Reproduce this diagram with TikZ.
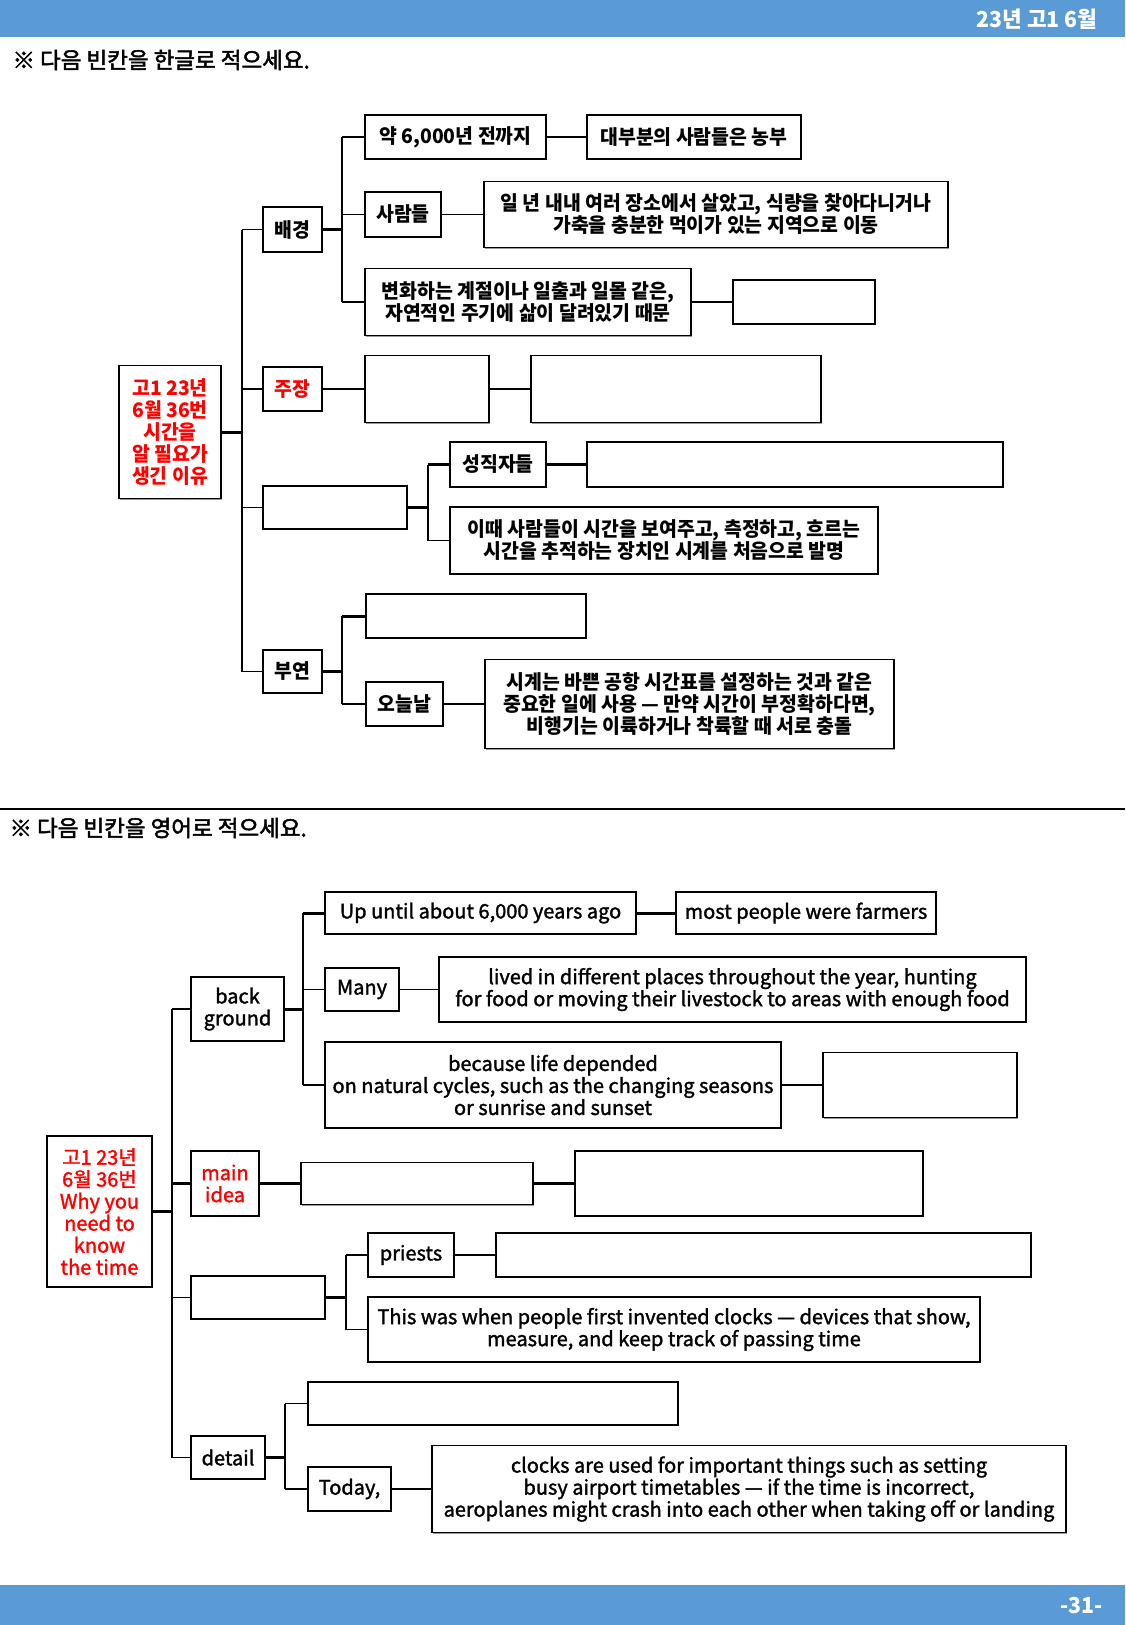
\documentclass[tikz,border=0pt]{standalone}
\usepackage{fontspec}
\setmainfont{Noto Sans CJK KR}
\newfontfamily\kr{Noto Sans CJK KR}[FakeStretch=0.97]
\newfontfamily\en{Noto Sans CJK KR}[FakeBold=1.6]
\newfontfamily\ins{Noto Sans CJK KR}[FakeBold=2.2]
\usetikzlibrary{calc,shadows}
\definecolor{barblue}{HTML}{5B9BD5}
\definecolor{myred}{HTML}{FF0000}
\begin{document}
\begin{tikzpicture}[x=1pt,y=-1pt,
  box/.style={draw=black, line width=1.6pt, fill=white, inner sep=2pt, align=center,
    font=\kr\bfseries\fontsize{20}{22}\selectfont,
    drop shadow={shadow xshift=1.3pt, shadow yshift=-1.3pt, fill=black!40, opacity=1}},
  ebox/.style={box, font=\en\fontsize{20}{22}\selectfont},
  sz/.style 2 args={minimum width=#1pt, minimum height=#2pt},
  conn/.style={line width=1.6pt},
  heavy/.style={line width=3pt},
  instr/.style={anchor=west, font=\ins\fontsize{22.5}{24}\selectfont}
]
\useasboundingbox (0,0) rectangle (1125,1625);
\fill[white] (0,0) rectangle (1125,1625);
\fill[barblue] (0,0) rectangle (1125,37);
\fill[barblue] (0,1585) rectangle (1125,1625);
\node[anchor=east, text=white, font=\kr\bfseries\fontsize{22}{24}\selectfont] (hdr) at (1101,19) {23년 고1 6월};
\node[anchor=east, text=white, font=\kr\bfseries\fontsize{22}{24}\selectfont] (ftr) at (1106,1605) {-31-};
\node[instr] (ins1) at (9,60) {※ 다음 빈칸을 한글로 적으세요.};
\node[instr] (ins2) at (6,828) {※ 다음 빈칸을 영어로 적으세요.};
\draw[line width=2.4pt] (0,809) -- (1125,809);

% ===== Top diagram =====
\node[box, sz={102}{133}, text=myred] (rootA) at (170,432) {고1 23년\\6월 36번\\시간을\\알 필요가\\생긴 이유};
\node[box, sz={59}{45}] (bgA) at (292.5,229.5) {배경};
\node[box, sz={59}{44}, text=myred] (mainA) at (292.5,389) {주장};
\node[box, sz={144}{43}] (thirdA) at (335,507.5) {};
\node[box, sz={59}{43}] (detA) at (292.5,671.5) {부연};

\node[box, sz={181}{44}] (a1) at (455.5,137) {약 6,000년 전까지};
\node[box, sz={214}{44}] (a1r) at (694,137) {대부분의 사람들은 농부};
\node[box, sz={76}{45}] (a2) at (403,214.5) {사람들};
\node[box, sz={464}{66}] (a2r) at (716,214.5) {일 년 내내 여러 장소에서 살았고, 식량을 찾아다니거나\\가축을 충분한 먹이가 있는 지역으로 이동};
\node[box, sz={326}{67}] (a3) at (528,302) {변화하는 계절이나 일출과 일몰 같은,\\자연적인 주기에 삶이 달려있기 때문};
\node[box, sz={142}{44}] (a3r) at (804,302) {};

\node[box, sz={124}{67}] (m1) at (427,389) {};
\node[box, sz={290}{67}] (m2) at (676,389) {};

\node[box, sz={96}{45}] (p1) at (498,464.5) {성직자들};
\node[box, sz={416}{45}] (p1r) at (795,464.5) {};
\node[box, sz={428}{67}] (p2) at (664,540.5) {이때 사람들이 시간을 보여주고, 측정하고, 흐르는\\시간을 추적하는 장치인 시계를 처음으로 발명};

\node[box, sz={220}{44}] (d1) at (476,616) {};
\node[box, sz={77}{44}] (d2) at (404.5,704) {오늘날};
\node[box, sz={409}{89}] (d2r) at (689.5,704) {시계는 바쁜 공항 시간표를 설정하는 것과 같은\\중요한 일에 사용 — 만약 시간이 부정확하다면,\\비행기는 이륙하거나 착륙할 때 서로 충돌};

\coordinate (tA) at (242,0);
\coordinate (sA1) at (342,0);
\coordinate (sA2) at (428,0);
\coordinate (sA3) at (342,0);
\draw[heavy] (rootA.east) -- (rootA.east -| tA);
\draw[conn] (tA |- bgA.west) -- (tA |- detA.west);
\foreach \n in {bgA,mainA,thirdA,detA} \draw[conn] (tA |- \n.west) -- (\n.west);
\draw[heavy] (bgA.east) -- (bgA.east -| sA1);
\draw[conn] (sA1 |- a1.west) -- (sA1 |- a3.west);
\foreach \n in {a1,a2,a3} \draw[conn] (sA1 |- \n.west) -- (\n.west);
\draw[conn] (a1.east) -- (a1r.west);
\draw[conn] (a2.east) -- (a2r.west);
\draw[conn] (a3.east) -- (a3r.west);
\draw[conn] (mainA.east) -- (m1.west);
\draw[conn] (m1.east) -- (m2.west);
\draw[heavy] (thirdA.east) -- (thirdA.east -| sA2);
\draw[conn] (sA2 |- p1.west) -- (sA2 |- p2.west);
\draw[heavy] (sA2 |- p1.west) -- (p1.west);
\draw[conn] (sA2 |- p2.west) -- (p2.west);
\draw[heavy] (p1.east) -- (p1r.west);
\draw[heavy] (detA.east) -- (detA.east -| sA3);
\draw[conn] (sA3 |- d1.west) -- (sA3 |- d2.west);
\draw[heavy] (sA3 |- d1.west) -- (d1.west);
\draw[conn] (sA3 |- d2.west) -- (d2.west);
\draw[conn] (d2.east) -- (d2r.west);

% ===== Bottom diagram =====
\node[ebox, sz={105}{151}, text=myred, font=\en\fontsize{20}{22}\selectfont] (rootB) at (99.5,1211.5) {고1 23년\\6월 36번\\Why you\\need to\\know\\the time};
\node[ebox, sz={93}{64}] (bgB) at (237.5,1009) {back\\ground};
\node[ebox, sz={68}{65}, text=myred] (mainB) at (225,1183.5) {main\\idea};
\node[ebox, sz={134}{43}] (thirdB) at (258,1297.5) {};
\node[ebox, sz={74}{43}] (detB) at (228,1457.5) {detail};

\node[ebox, sz={311}{42}] (b1) at (480.5,913) {Up until about 6,000 years ago};
\node[ebox, sz={260}{42}] (b1r) at (806,913) {most people were farmers};
\node[ebox, sz={74}{43}] (b2) at (362,989.5) {Many};
\node[ebox, sz={587}{65}] (b2r) at (732.5,989.5) {lived in different places throughout the year, hunting\\for food or moving their livestock to areas with enough food};
\node[ebox, sz={456}{86}] (b3) at (553,1085) {because life depended\\on natural cycles, such as the changing seasons\\or sunrise and sunset};
\node[ebox, sz={194}{65}] (b3r) at (920,1085) {};

\node[ebox, sz={232}{42}] (mb1) at (417,1183.5) {};
\node[ebox, sz={348}{65}] (mb2) at (749,1183.5) {};

\node[ebox, sz={86}{44}] (q1) at (411,1255) {priests};
\node[ebox, sz={535}{44}] (q1r) at (763.5,1255) {};
\node[ebox, sz={612}{65}] (q2) at (674,1329.5) {This was when people first invented clocks — devices that show,\\measure, and keep track of passing time};

\node[ebox, sz={370}{43}] (e1) at (493,1403.5) {};
\node[ebox, sz={83}{44}] (e2) at (349.5,1489) {Today,};
\node[ebox, sz={634}{87}] (e2r) at (749,1489) {clocks are used for important things such as setting\\busy airport timetables — if the time is incorrect,\\aeroplanes might crash into each other when taking off or landing};

\coordinate (tB) at (172,0);
\coordinate (sB1) at (303,0);
\coordinate (sB2) at (346,0);
\coordinate (sB3) at (285,0);
\draw[heavy] (rootB.east) -- (rootB.east -| tB);
\draw[conn] (tB |- bgB.west) -- (tB |- detB.west);
\foreach \n in {bgB,thirdB,detB} \draw[conn] (tB |- \n.west) -- (\n.west);
\draw[heavy] (tB |- mainB.west) -- (mainB.west);
\draw[heavy] (bgB.east) -- (bgB.east -| sB1);
\draw[conn] (sB1 |- b1.west) -- (sB1 |- b3.west);
\draw[heavy] (sB1 |- b1.west) -- (b1.west);
\draw[conn] (sB1 |- b2.west) -- (b2.west);
\draw[conn] (sB1 |- b3.west) -- (b3.west);
\draw[heavy] (b1.east) -- (b1r.west);
\draw[conn] (b2.east) -- (b2r.west);
\draw[conn] (b3.east) -- (b3r.west);
\draw[heavy] (mainB.east) -- (mb1.west);
\draw[heavy] (mb1.east) -- (mb2.west);
\draw[heavy] (thirdB.east) -- (thirdB.east -| sB2);
\draw[conn] (sB2 |- q1.west) -- (sB2 |- q2.west);
\foreach \n in {q1,q2} \draw[conn] (sB2 |- \n.west) -- (\n.west);
\draw[conn] (q1.east) -- (q1r.west);
\draw[heavy] (detB.east) -- (detB.east -| sB3);
\draw[conn] (sB3 |- e1.west) -- (sB3 |- e2.west);
\foreach \n in {e1,e2} \draw[conn] (sB3 |- \n.west) -- (\n.west);
\draw[conn] (e2.east) -- (e2r.west);
\end{tikzpicture}
\end{document}
